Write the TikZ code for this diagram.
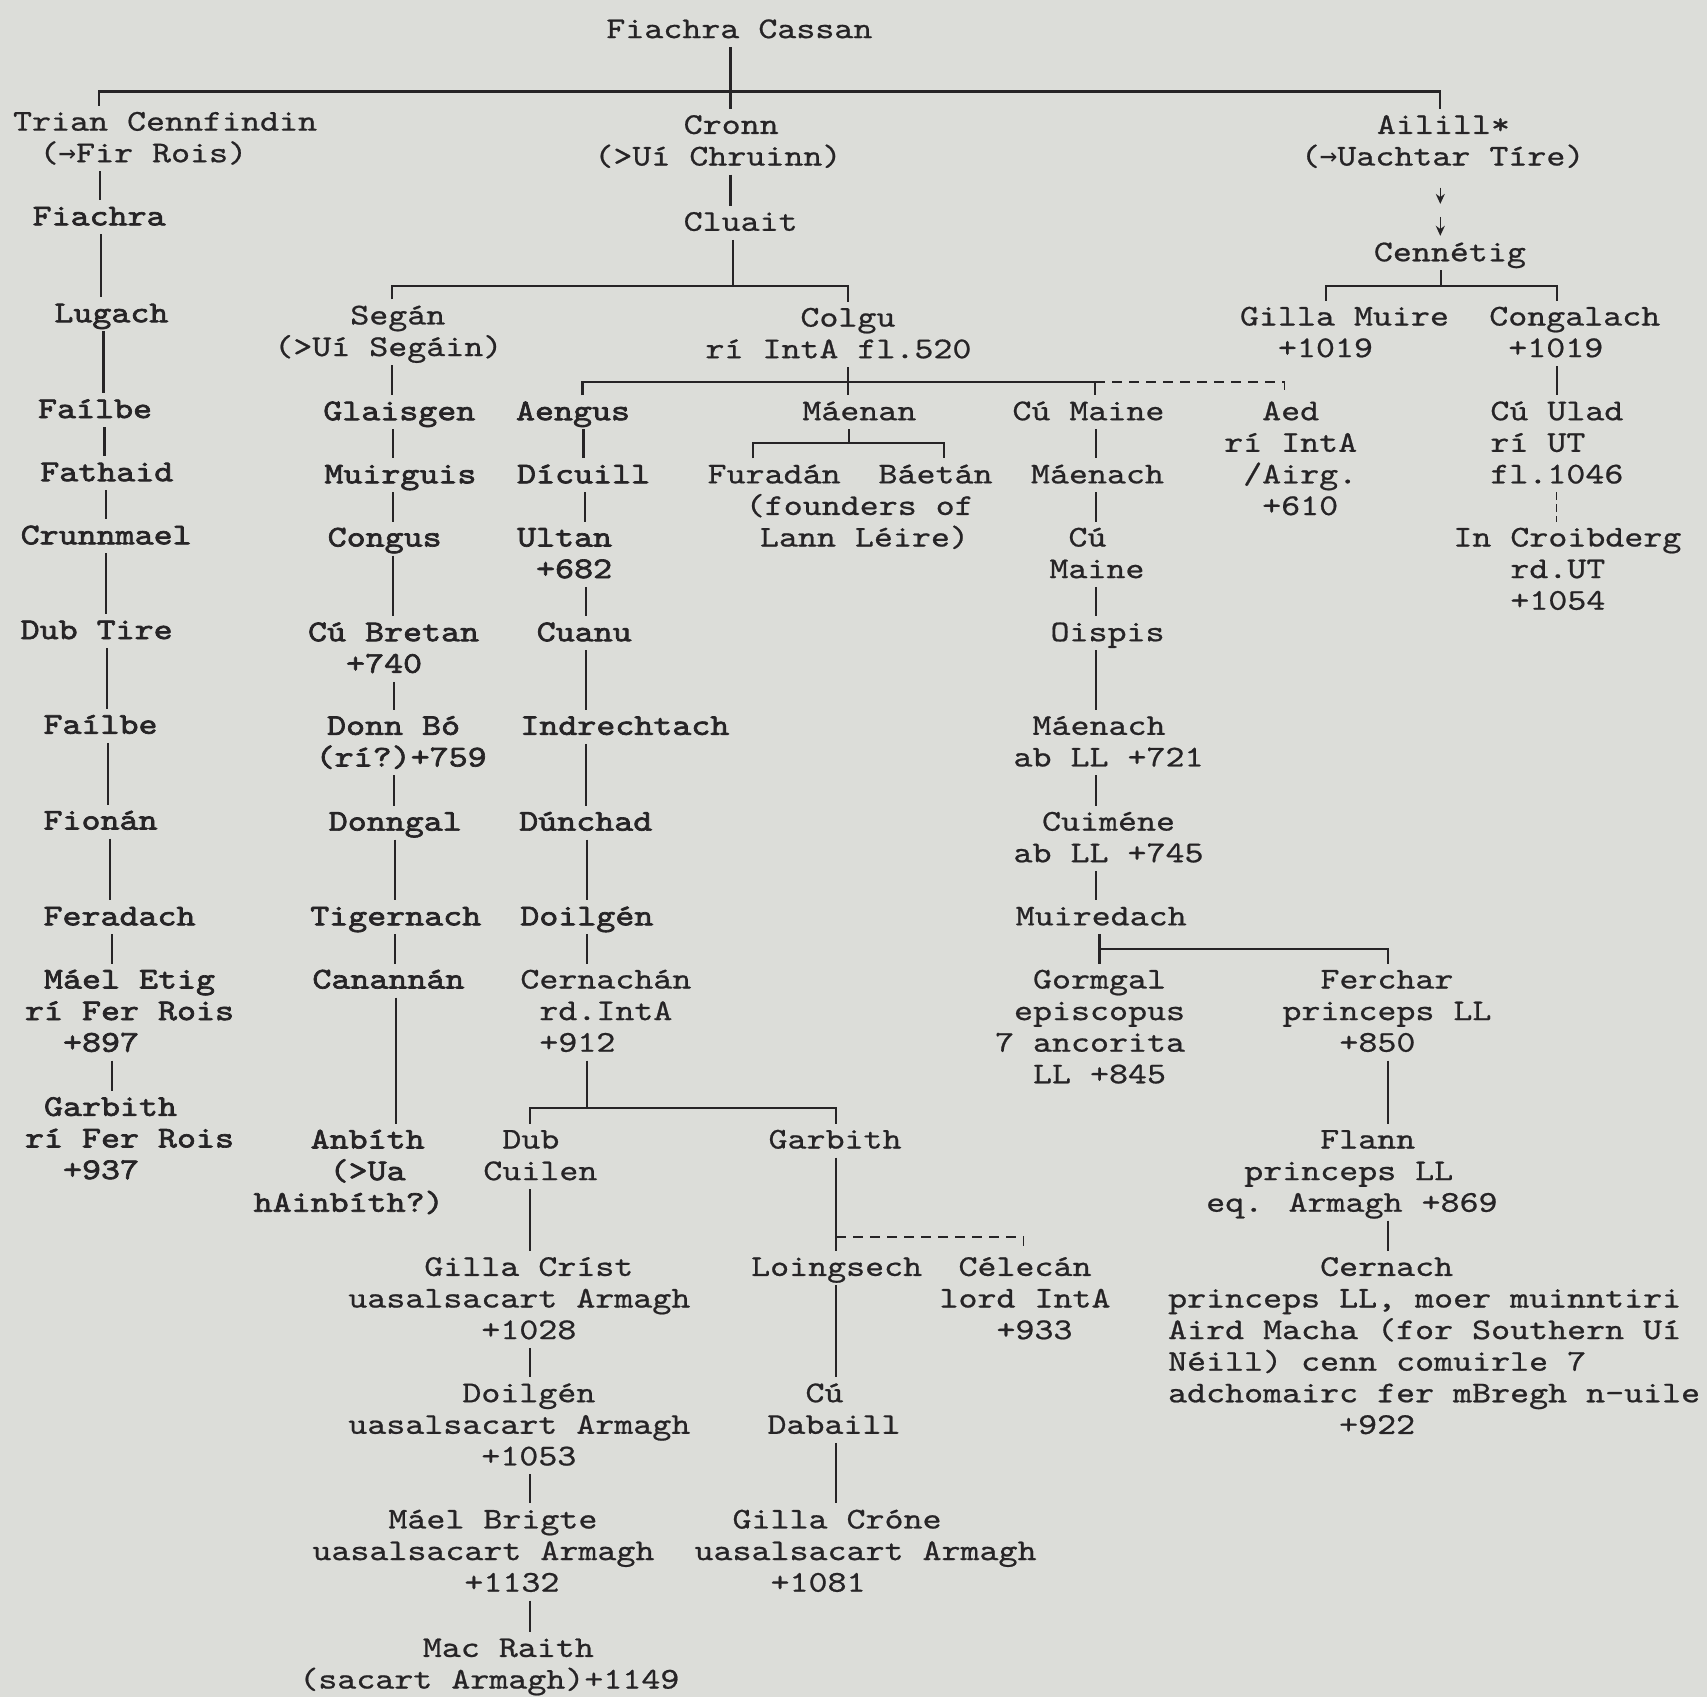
\documentclass[tikz,border=0pt]{standalone}
\usepackage{fontspec}
\usetikzlibrary{arrows.meta,calc}
\newfontfamily\monofam{lmmono10-regular}[Extension=.otf, FakeStretch=1.2, FakeBold=0.7]
\newfontfamily\monobfam{lmmono10-regular}[Extension=.otf, FakeStretch=1.2, FakeBold=2.2]
\newfontfamily\arrfam{DejaVu Sans Mono}
\newcommand\nf{\monofam\fontsize{15.08pt}{15.8pt}\selectfont\lineskiplimit=-30pt\lineskip=0pt}
\newcommand\bnf{\monobfam\fontsize{15.08pt}{15.8pt}\selectfont\lineskiplimit=-30pt\lineskip=0pt}
\newlength\cw \setlength\cw{9.5pt}
\newcommand\ind[1]{\hspace*{#1\cw}}
\newcommand\T{\rule{0pt}{16pt}}
\newcommand\B{\rule[-4.5pt]{0pt}{4.5pt}}
\newcommand\ra{{\arrfam\fontsize{14.5pt}{15.8pt}\selectfont →}}
\definecolor{paper}{RGB}{220,221,217}
\definecolor{ink}{RGB}{38,36,38}
\tikzset{
  pn/.style={anchor=north west, inner sep=0pt, outer sep=0pt, align=left, font=\nf, text=ink, yshift=16pt},
  pnb/.style={pn, font=\bnf},
  ln/.style={draw=ink, line width=1.1pt},
  lnc/.style={ln, shorten >=-3.5pt},
  dsh/.style={draw=ink, line width=0.8pt, dash pattern=on 5pt off 3.5pt, shorten >=-3.5pt},
  dsh2/.style={draw=ink, line width=0.7pt, dash pattern=on 4pt off 2pt, shorten >=-3.5pt},
  arr/.style={draw=ink, line width=0.8pt, -{Stealth[length=5pt,width=4.5pt]}},
}
\newcommand\vl[3]{\draw[lnc] ($(#1.south west)+(#3,0)$) -- ($(#1.south west |- #2.north)+(#3,0)$);}
\newcommand\stm[3]{\draw[ln] ($(#1.south west)+(#2,0)$) -- ($(#1.south west |- #3)+(#2,0)$);}
\newcommand\brk[5]{\draw[lnc,shorten <=-3.5pt] ($(#1.north west)+(#2,0)$) -- ($(#1.north west |- #3)+(#2,0)$) -- ($(#4.north west |- #3)+(#5,0)$) -- ($(#4.north west)+(#5,0)$);}
\begin{document}
\begin{tikzpicture}[x=0.54435pt,y=-0.54435pt]
\useasboundingbox (0,0) rectangle (1568,1559);
\fill[paper] (0,0) rectangle (1568,1559);

% ---------- nodes ----------
\node[pn] (fc) at (557,35) {\T Fiachra Cassan\B};
\node[pn] (tcc) at (12,120) {\T Trian Cennfindin\\\ind{1.4}(\ra Fir Rois)\B};
\node[pn] (cronn) at (546,123) {\T\ind{4.7}Cronn\\(>Uí Chruinn)\B};
\node[pn] (ail) at (1195,123) {\T\ind{4}Ailill*\\(\ra Uachtar Tíre)\B};
\node[pnb] (fia) at (30,207) {\T Fiachra\B};
\node[pn] (clu) at (628,212) {\T Cluait\B};
\node[pn] (cen) at (1262,240) {\T Cennétig\B};
\node[pnb] (lug) at (50,296) {\T Lugach\B};
\node[pn] (seg) at (252,298) {\T\ind{4}Segán\\(>Uí Segáin)\B};
\node[pn] (col) at (648,300) {\T\ind{5}Colgu\\rí IntA fl.520\B};
\node[pn] (gm) at (1139,299) {\T Gilla Muire\\\ind{2}+1019\B};
\node[pn] (cong) at (1368,299) {\T Congalach\\\ind{1}+1019\B};
\node[pnb] (fa1) at (35,384) {\T Faílbe\B};
\node[pnb] (gla) at (297,386) {\T Glaisgen\B};
\node[pnb] (aen) at (474,386) {\T Aengus\B};
\node[pn] (mae) at (737,386) {\T Máenan\B};
\node[pn] (cum) at (930,386) {\T Cú Maine\B};
\node[pn] (aed) at (1124.5,386) {\T\ind{2}Aed\\rí IntA\\\ind{1}/Airg.\\\ind{2}+610\B};
\node[pn] (cul) at (1369,386) {\T Cú Ulad\\rí UT\\fl.1046\B};
\node[pnb] (fat) at (37,442) {\T Fathaid\B};
\node[pnb] (mui) at (298,444) {\T Muirguis\B};
\node[pnb] (dic) at (475,444) {\T Dícuill\B};
\node[pn] (fur) at (650,444) {\T Furadán\B};
\node[pn] (bae) at (807,444) {\T Báetán\B};
\node[pn] (fnd) at (685,473) {\T(founders of\\\ind{0.75}Lann Léire)\B};
\node[pn] (mn1) at (947,444) {\T Máenach\B};
\node[pnb] (cru) at (19,500) {\T Crunnmael\B};
\node[pnb] (cgs) at (301,502) {\T Congus\B};
\node[pnb] (ult) at (475,502) {\T Ultan\\\ind{1}+682\B};
\node[pn] (cm2) at (964,502) {\T\ind{1}Cú\\Maine\B};
\node[pn] (icr) at (1335,502) {\T In Croibderg\\\ind{3}rd.UT\\\ind{3}+1054\B};
\node[pnb] (dub) at (19,587) {\T Dub Tire\B};
\node[pnb] (cub) at (283,589) {\T Cú Bretan\\\ind{2}+740\B};
\node[pnb] (cua) at (493,589) {\T Cuanu\B};
\node[pn] (ois) at (965,589) {\T Oispis\B};
\node[pnb] (fa2) at (40,674) {\T Faílbe\B};
\node[pnb] (dbo) at (290,675) {\T\ind{0.6}Donn Bó\\(rí?)+759\B};
\node[pnb] (ind) at (478,675) {\T Indrechtach\B};
\node[pn] (mn2) at (931,675) {\T\ind{1}Máenach\\ab LL +721\B};
\node[pnb] (fio) at (40,762) {\T Fionán\B};
\node[pnb] (dgl) at (302,763) {\T Donngal\B};
\node[pnb] (dun) at (477,763) {\T Dúnchad\B};
\node[pn] (cui) at (931,763) {\T\ind{1.5}Cuiméne\\ab LL +745\B};
\node[pnb] (fer) at (40,850) {\T Feradach\B};
\node[pnb] (tig) at (285,850) {\T Tigernach\B};
\node[pnb] (do1) at (478,850) {\T Doilgén\B};
\node[pn] (mrd) at (933,850) {\T Muiredach\B};
\node[pnb] (met) at (23,908) {\T\ind{1}Máel Etig\\rí Fer Rois\\\ind{2}+897\B};
\node[pnb] (can) at (287,908) {\T Canannán\B};
\node[pn] (cer) at (478,908) {\T Cernachán\\\ind{1}rd.IntA\\\ind{1}+912\B};
\node[pn] (gor) at (914,908) {\T\ind{2}Gormgal\\\ind{1}episcopus\\7 ancorita\\\ind{2}LL +845\B};
\node[pn] (fch) at (1178,908) {\T\ind{2}Ferchar\\princeps LL\\\ind{3}+850\B};
\node[pnb] (gb1) at (23,1025) {\T\ind{1}Garbith\\rí Fer Rois\\\ind{2}+937\B};
\node[pnb] (anb) at (233,1055) {\T\ind{3}Anbíth\\\ind{4}(>Ua\\hAinbíth?)\B};
\node[pn] (dcu) at (444,1055) {\T\ind{1}Dub\\Cuilen\B};
\node[pn] (gb2) at (706,1055) {\T Garbith\B};
\node[pn] (fla) at (1108,1055) {\T\ind{6}Flann\\\ind{2}princeps LL\\eq. Armagh +869\B};
\node[pn] (gcr) at (320,1172) {\T\ind{4}Gilla Críst\\uasalsacart Armagh\\\ind{7}+1028\B};
\node[pn] (loi) at (690,1172) {\T Loingsech\B};
\node[pn] (cel) at (863,1172) {\T\ind{1}Célecán\\lord IntA\\\ind{3}+933\B};
\node[pn] (crn) at (1073,1172) {\T\ind{8}Cernach\\princeps LL, moer muinntiri\\Aird Macha (for Southern Uí\\Néill) cenn comuirle 7\\adchomairc fer mBregh n-uile\\\ind{9}+922\B};
\node[pn] (do2) at (320,1288) {\T\ind{6}Doilgén\\uasalsacart Armagh\\\ind{7}+1053\B};
\node[pn] (cud) at (705,1288) {\T\ind{2}Cú\\Dabaill\B};
\node[pn] (mbr) at (287,1404) {\T\ind{4}Máel Brigte\\uasalsacart Armagh\\\ind{8}+1132\B};
\node[pn] (gcn) at (638,1404) {\T\ind{2}Gilla Cróne\\uasalsacart Armagh\\\ind{4}+1081\B};
\node[pn] (mrt) at (275,1522) {\T\ind{6.5}Mac Raith\\(sacart Armagh)+1149\B};

% ---------- bar levels ----------
\coordinate (y1) at (0,84);
\coordinate (y2) at (0,263);
\coordinate (y3) at (0,351);
\coordinate (y4) at (0,1018);
\coordinate (y5) at (0,1136);
\coordinate (y6) at (0,407);
\coordinate (y7) at (0,872);
\coordinate (y8) at (0,263);

% ---------- top ----------
\vl{fc}{cronn}{114}
\brk{tcc}{79}{y1}{ail}{128}

% ---------- Trian Cennfindin line ----------
\vl{tcc}{fia}{80}
\vl{fia}{lug}{63}
\vl{lug}{fa1}{45}
\vl{fa1}{fat}{61}
\vl{fat}{cru}{60}
\vl{cru}{dub}{78}
\vl{dub}{fa2}{79}
\vl{fa2}{fio}{59}
\vl{fio}{fer}{61}
\vl{fer}{met}{63}
\vl{met}{gb1}{80}

% ---------- Cronn ----------
\vl{cronn}{clu}{125}
\stm{clu}{45}{y2}
\brk{seg}{108}{y2}{col}{131}

% ---------- Segan line ----------
\vl{seg}{gla}{108}
\vl{gla}{mui}{64}
\vl{mui}{cgs}{63}
\vl{cgs}{cub}{60}
\vl{cub}{dbo}{79}
\vl{dbo}{dgl}{72}
\vl{dgl}{tig}{61}
\vl{tig}{can}{78}
\vl{can}{anb}{77}

% ---------- Colgu ----------
\vl{col}{mae}{131}
\brk{aen}{61}{y3}{cum}{76}
\draw[dsh] ($(cum.north west |- y3)+(76,0)$) -- ($(aed.north west |- y3)+(55.5,0)$) -- ($(aed.north west)+(55.5,0)$);

% ---------- Aengus line ----------
\vl{aen}{dic}{62}
\vl{dic}{ult}{62}
\vl{ult}{cua}{63}
\vl{cua}{ind}{45}
\vl{ind}{dun}{60}
\vl{dun}{do1}{62}
\vl{do1}{cer}{61}
\stm{cer}{61}{y4}
\brk{dcu}{43}{y4}{gb2}{62}
\vl{dcu}{gcr}{43}
\vl{gcr}{do2}{167}
\vl{do2}{mbr}{167}
\vl{mbr}{mrt}{200}
\vl{gb2}{loi}{62}
\draw[dsh] ($(gb2.south west |- y5)+(62,0)$) -- ($(cel.north west |- y5)+(77,0)$) -- ($(cel.north west)+(77,0)$);
\vl{loi}{cud}{78}
\vl{cud}{gcn}{63}

% ---------- Maenan ----------
\stm{mae}{43}{y6}
\brk{fur}{42}{y6}{bae}{60}

% ---------- Cu Maine line ----------
\vl{cum}{mn1}{77}
\vl{mn1}{cm2}{60}
\vl{cm2}{ois}{43}
\vl{ois}{mn2}{42}
\vl{mn2}{cui}{76}
\vl{cui}{mrd}{76}
\vl{mrd}{gor}{77}
\draw[lnc] ($(mrd.south west |- y7)+(77,0)$) -- ($(fch.north west |- y7)+(97,0)$) -- ($(fch.north west)+(97,0)$);
\vl{fch}{fla}{97}
\vl{fla}{crn}{167}

% ---------- Ailill ----------
\draw[arr] ($(ail.south west)+(128,12)$) -- ++(0,15);
\draw[arr] ($(ail.south west)+(128,39)$) -- ($(ail.south west |- cen.north)+(128,6)$);
\stm{cen}{62}{y8}
\brk{gm}{79}{y8}{cong}{62}
\vl{cong}{cul}{62}
\draw[dsh2] ($(cul.south west)+(61,0)$) -- ($(cul.south west |- icr.north)+(61,0)$);
\end{tikzpicture}
\end{document}
